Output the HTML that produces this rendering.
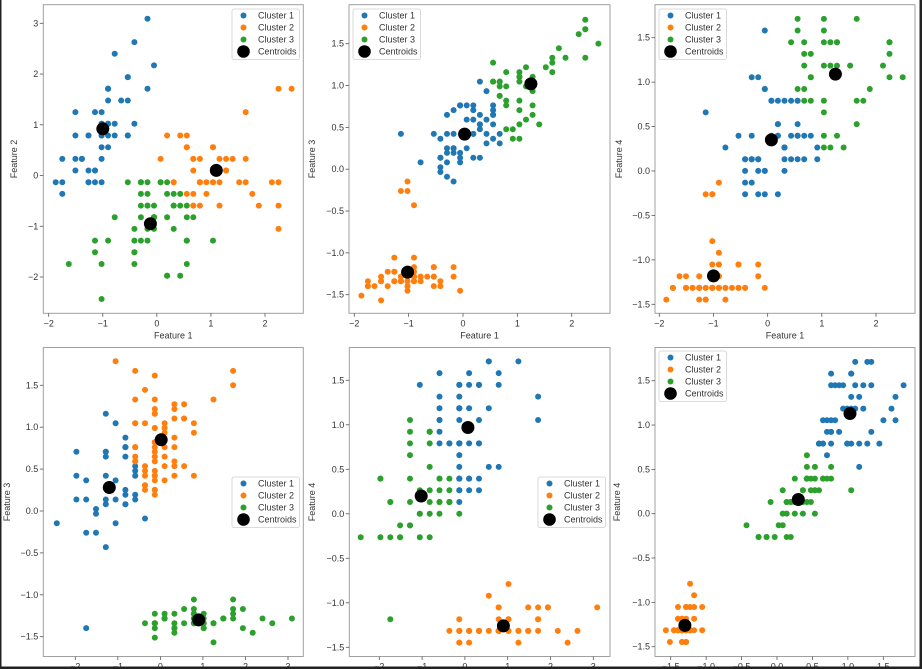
<!DOCTYPE html>
<html><head><meta charset="utf-8">
<style>
html,body{margin:0;padding:0;background:#fff;}
#wrap{position:relative;width:922px;height:669px;overflow:hidden;background:#fff;}
svg text{font-family:"Liberation Sans",sans-serif;}
</style></head>
<body>
<div id="wrap">
<svg id="fig" width="922" height="669" viewBox="0 0 922 669" xmlns="http://www.w3.org/2000/svg"></svg>
</div>
<script>
// Iris dataset features (raw)
const sepalLength=[5.1,4.9,4.7,4.6,5.0,5.4,4.6,5.0,4.4,4.9,5.4,4.8,4.8,4.3,5.8,5.7,5.4,5.1,5.7,5.1,5.4,5.1,4.6,5.1,4.8,5.0,5.0,5.2,5.2,4.7,4.8,5.4,5.2,5.5,4.9,5.0,5.5,4.9,4.4,5.1,5.0,4.5,4.4,5.0,5.1,4.8,5.1,4.6,5.3,5.0,
7.0,6.4,6.9,5.5,6.5,5.7,6.3,4.9,6.6,5.2,5.0,5.9,6.0,6.1,5.6,6.7,5.6,5.8,6.2,5.6,5.9,6.1,6.3,6.1,6.4,6.6,6.8,6.7,6.0,5.7,5.5,5.5,5.8,6.0,5.4,6.0,6.7,6.3,5.6,5.5,5.5,6.1,5.8,5.0,5.6,5.7,5.7,6.2,5.1,5.7,
6.3,5.8,7.1,6.3,6.5,7.6,4.9,7.3,6.7,7.2,6.5,6.4,6.8,5.7,5.8,6.4,6.5,7.7,7.7,6.0,6.9,5.6,7.7,6.3,6.7,7.2,6.2,6.1,6.4,7.2,7.4,7.9,6.4,6.3,6.1,7.7,6.3,6.4,6.0,6.9,6.7,6.9,5.8,6.8,6.7,6.7,6.3,6.5,6.2,5.9];
const sepalWidth=[3.5,3.0,3.2,3.1,3.6,3.9,3.4,3.4,2.9,3.1,3.7,3.4,3.0,3.0,4.0,4.4,3.9,3.5,3.8,3.8,3.4,3.7,3.6,3.3,3.4,3.0,3.4,3.5,3.4,3.2,3.1,3.4,4.1,4.2,3.1,3.2,3.5,3.6,3.0,3.4,3.5,2.3,3.2,3.5,3.8,3.0,3.8,3.2,3.7,3.3,
3.2,3.2,3.1,2.3,2.8,2.8,3.3,2.4,2.9,2.7,2.0,3.0,2.2,2.9,2.9,3.1,3.0,2.7,2.2,2.5,3.2,2.8,2.5,2.8,2.9,3.0,2.8,3.0,2.9,2.6,2.4,2.4,2.7,2.7,3.0,3.4,3.1,2.3,3.0,2.5,2.6,3.0,2.6,2.3,2.7,3.0,2.9,2.9,2.5,2.8,
3.3,2.7,3.0,2.9,3.0,3.0,2.5,2.9,2.5,3.6,3.2,2.7,3.0,2.5,2.8,3.2,3.0,3.8,2.6,2.2,3.2,2.8,2.8,2.7,3.3,3.2,2.8,3.0,2.8,3.0,2.8,3.8,2.8,2.8,2.6,3.0,3.4,3.1,3.0,3.1,3.1,3.1,2.7,3.2,3.3,3.0,2.5,3.0,3.4,3.0];
const petalLength=[1.4,1.4,1.3,1.5,1.4,1.7,1.4,1.5,1.4,1.5,1.5,1.6,1.4,1.1,1.2,1.5,1.3,1.4,1.7,1.5,1.7,1.5,1.0,1.7,1.9,1.6,1.6,1.5,1.4,1.6,1.6,1.5,1.5,1.4,1.5,1.2,1.3,1.4,1.3,1.5,1.3,1.3,1.3,1.6,1.9,1.4,1.6,1.4,1.5,1.4,
4.7,4.5,4.9,4.0,4.6,4.5,4.7,3.3,4.6,3.9,3.5,4.2,4.0,4.7,3.6,4.4,4.5,4.1,4.5,3.9,4.8,4.0,4.9,4.7,4.3,4.4,4.8,5.0,4.5,3.5,3.8,3.7,3.9,5.1,4.5,4.5,4.7,4.4,4.1,4.0,4.4,4.6,4.0,3.3,4.2,4.2,4.2,4.3,3.0,4.1,
6.0,5.1,5.9,5.6,5.8,6.6,4.5,6.3,5.8,6.1,5.1,5.3,5.5,5.0,5.1,5.3,5.5,6.7,6.9,5.0,5.7,4.9,6.7,4.9,5.7,6.0,4.8,4.9,5.6,5.8,6.1,6.4,5.6,5.1,5.6,6.1,5.6,5.5,4.8,5.4,5.6,5.1,5.1,5.9,5.7,5.2,5.0,5.2,5.4,5.1];
const petalWidth=[0.2,0.2,0.2,0.2,0.2,0.4,0.3,0.2,0.2,0.1,0.2,0.2,0.1,0.1,0.2,0.4,0.4,0.3,0.3,0.3,0.2,0.4,0.2,0.5,0.2,0.2,0.4,0.2,0.2,0.2,0.2,0.4,0.1,0.2,0.2,0.2,0.2,0.1,0.2,0.2,0.3,0.3,0.2,0.6,0.4,0.3,0.2,0.2,0.2,0.2,
1.4,1.5,1.5,1.3,1.5,1.3,1.6,1.0,1.3,1.4,1.0,1.5,1.0,1.4,1.3,1.4,1.5,1.0,1.5,1.1,1.8,1.3,1.5,1.2,1.3,1.4,1.4,1.7,1.5,1.0,1.1,1.0,1.2,1.6,1.5,1.6,1.5,1.3,1.3,1.3,1.2,1.4,1.2,1.0,1.3,1.2,1.3,1.3,1.1,1.3,
2.5,1.9,2.1,1.8,2.2,2.1,1.7,1.8,1.8,2.5,2.0,1.9,2.1,2.0,2.4,2.3,1.8,2.2,2.3,1.5,2.3,2.0,2.0,1.8,2.1,1.8,1.8,1.8,2.1,1.6,1.9,2.0,2.2,1.5,1.4,2.3,2.4,1.8,1.8,2.1,2.4,2.3,1.9,2.3,2.5,2.3,1.9,2.0,2.3,1.8];

// Centroids: [cluster1, cluster2, cluster3] as [x,y]
const centroids1=[[-1.0,0.92],[1.1,0.1],[-0.12,-0.95]];
const centroids2=[[0.03,0.42],[-1.02,-1.23],[1.25,1.02]];
const centroids3=[[0.07,0.35],[-1.0,-1.18],[1.25,1.09]];
const centroids4=[[-1.2,0.28],[0.02,0.85],[0.9,-1.3]];
const centroids5=[[0.07,0.97],[0.9,-1.26],[-1.02,0.2]];
const centroids6=[[1.03,1.13],[-1.3,-1.26],[0.3,0.16]];

const ticks12=[-2,-1,0,1,2];
const ticksY1=[-2,-1,0,1,2,3];
const ticksHalf=[-1.5,-1.0,-0.5,0.0,0.5,1.0,1.5];
const ticks23=[-2,-1,0,1,2,3];
const clusterNames=["Cluster 1","Cluster 2","Cluster 3","Centroids"];

const colors=["#1f77b4","#ff7f0e","#2ca02c"];
const feats=[sepalLength,sepalWidth,petalLength,petalWidth].map(a=>{
  const m=a.reduce((s,v)=>s+v,0)/a.length;
  const sd=Math.sqrt(a.reduce((s,v)=>s+(v-m)*(v-m),0)/a.length);
  return a.map(v=>(v-m)/sd);
});

const NS="http://www.w3.org/2000/svg";
const svg=document.getElementById('fig');
function mk(tag,attrs,parent){const e=document.createElementNS(NS,tag);for(const k in attrs)e.setAttribute(k,attrs[k]);(parent||svg).appendChild(e);return e;}
function fmt(v,arr){let s=(arr===ticksHalf)?v.toFixed(1):String(v);return s.replace('-','\u2212');}

const panels=[
 {fx:0,fy:1,L:43.3,R:303.3,T:4.7,B:313.3,xa:[-2,48.7,2,265],ya:[3,23.3,-2,277],xt:ticks12,yt:ticksY1,xl:"Feature 1",yl:"Feature 2",ylx:17,c:centroids1,leg:[232,9]},
 {fx:0,fy:2,L:349,R:610,T:4.7,B:313.3,xa:[-2,354.3,2,571.7],ya:[1.5,43.7,-1.5,294.7],xt:ticks12,yt:ticksHalf,xl:"Feature 1",yl:"Feature 3",ylx:315,c:centroids2,leg:[353,9]},
 {fx:0,fy:3,L:655,R:915,T:4.7,B:313.3,xa:[-2,659.3,2,876],ya:[1.5,37.7,-1.5,304.3],xt:ticks12,yt:ticksHalf,xl:"Feature 1",yl:"Feature 4",ylx:622,c:centroids3,leg:[659,9]},
 {fx:1,fy:2,L:43.3,R:303.3,T:347.5,B:656.5,xa:[-2,75.3,3,288],ya:[1.5,385.3,-1.5,636.7],xt:ticks23,yt:ticksHalf,xl:"Feature 2",yl:"Feature 3",ylx:10,c:centroids4,leg:[232,477]},
 {fx:1,fy:3,L:349.3,R:610,T:347.5,B:656.5,xa:[-2,379.3,3,593.3],ya:[1.5,380.3,-1.5,647.3],xt:ticks23,yt:ticksHalf,xl:"Feature 2",yl:"Feature 4",ylx:315,c:centroids5,leg:[538,477]},
 {fx:2,fy:3,L:655,R:915,T:347.5,B:656.5,xa:[-1.5,670.7,1.5,883.3],ya:[1.5,380.7,-1.5,646.7],xt:ticksHalf,yt:ticksHalf,xl:"Feature 3",yl:"Feature 4",ylx:620,c:centroids6,leg:[659,351]}
];

panels.forEach((p,pi)=>{
  const sx=v=>p.xa[1]+(v-p.xa[0])*(p.xa[3]-p.xa[1])/(p.xa[2]-p.xa[0]);
  const sy=v=>p.ya[1]+(v-p.ya[0])*(p.ya[3]-p.ya[1])/(p.ya[2]-p.ya[0]);
  const g=mk('g',{});
  
  
  const clip=mk('clipPath',{id:'cp'+pi},g);
  mk('rect',{x:p.L,y:p.T,width:p.R-p.L,height:p.B-p.T},clip);
  const X=feats[p.fx],Y=feats[p.fy];
  const assign=X.map((x,i)=>{let best=0,bd=1e9;p.c.forEach((c,k)=>{const d=(x-c[0])**2+(Y[i]-c[1])**2;if(d<bd){bd=d;best=k;}});return best;});
  for(let k=0;k<3;k++){
    const sg=mk('g',{'clip-path':'url(#cp'+pi+')'},g);
    
    
    X.forEach((x,i)=>{ if(assign[i]!==k) return;
      const c=mk('circle',{cx:sx(x).toFixed(1),cy:sy(Y[i]).toFixed(1),r:3,fill:colors[k]},sg);
      
      
    });
  }
  p.c.forEach((c,k)=>{
    const e=mk('circle',{cx:sx(c[0]).toFixed(1),cy:sy(c[1]).toFixed(1),r:6.5,fill:'#000'},g);
    
    
  });
  const fr=mk('rect',{x:p.L,y:p.T,width:p.R-p.L,height:p.B-p.T,fill:'none',stroke:'#a0a0a0','stroke-width':1},g);
  
  
  p.xt.forEach(t=>{const x=sx(t);if(x<p.L-1||x>p.R+1)return;
    mk('line',{x1:x,y1:p.B,x2:x,y2:p.B+3.5,stroke:'#555','stroke-width':0.8},g);
    const tx=mk('text',{x:x,y:p.B+13,'font-size':9,fill:'#333','text-anchor':'middle'},g);
    tx.textContent=fmt(t,p.xt);
    
    
  });
  p.yt.forEach(t=>{const y=sy(t);if(y<p.T-1||y>p.B+1)return;
    mk('line',{x1:p.L-3.5,y1:y,x2:p.L,y2:y,stroke:'#555','stroke-width':0.8},g);
    const tx=mk('text',{x:p.L-5,y:y+3,'font-size':9,fill:'#333','text-anchor':'end'},g);
    tx.textContent=fmt(t,p.yt);
    
    
  });
  const xl=mk('text',{x:(p.L+p.R)/2,y:p.B+25,'font-size':9,fill:'#333','text-anchor':'middle'},g);
  xl.textContent=p.xl;
  
  
  const cy=(p.T+p.B)/2;
  const yl=mk('text',{x:p.ylx,y:cy,'font-size':9,fill:'#333','text-anchor':'middle',transform:'rotate(-90 '+p.ylx+' '+cy+')'},g);
  yl.textContent=p.yl;
  
  
  const lx=p.leg[0],ly=p.leg[1];
  const lg=mk('g',{},g);
  
  
  mk('rect',{x:lx,y:ly,width:67.5,height:50.5,rx:2,fill:'#fff','fill-opacity':0.85,stroke:'#d0d0d0','stroke-width':0.8},lg);
  clusterNames.forEach((n,k)=>{
    const yy=ly+6.5+k*12;
    mk('circle',{cx:lx+11.5,cy:yy,r:k<3?3:6.3,fill:k<3?colors[k]:'#000'},lg);
    const t=mk('text',{x:lx+26,y:yy+3,'font-size':9,fill:'#333'},lg);
    t.textContent=n;
    
    
  });
});
mk('rect',{x:0,y:0,width:1.5,height:669,fill:'#222'});
mk('rect',{x:0,y:666.5,width:922,height:2.5,fill:'#222'});
mk('rect',{x:919.5,y:0,width:2.5,height:669,fill:'#222'});
</script>
</body></html>
